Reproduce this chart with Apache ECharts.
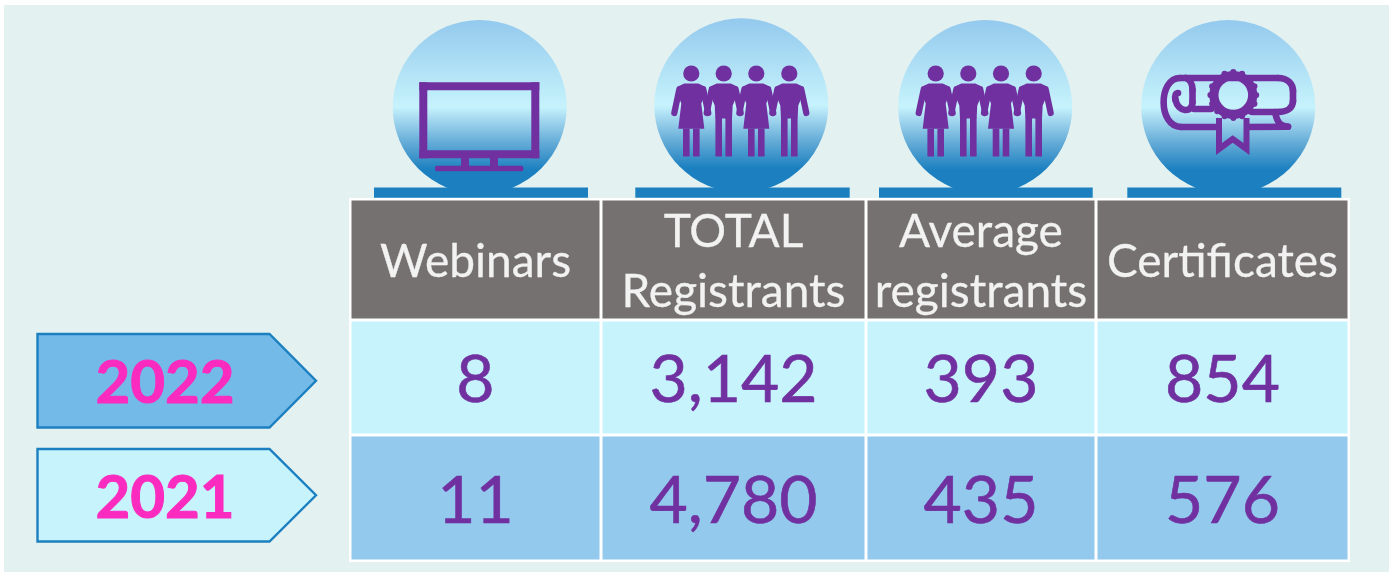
<!DOCTYPE html>
<html>
<head>
<meta charset="utf-8">
<style>html,body{margin:0;padding:0;background:#fff}#container{width:1397px;height:572px}</style>
<script src="https://cdn.jsdelivr.net/npm/echarts@6/dist/echarts.min.js"></script>
</head>
<body>
<div id="container"></div>
<script>
// table contents
var headers = ['Webinars', 'TOTAL\nRegistrants', 'Average\nregistrants', 'Certificates'];
var years = ['2022', '2021'];
var values2022 = [8, 3142, 393, 854];
var values2021 = [11, 4780, 435, 576];

// layout, in picture pixels (the axes below map 1:1)
var colEdges = [350, 601, 866, 1096, 1349];
var rowEdges = [199, 320, 435, 561];
var tagBoxes = [[37.5, 334, 427.5], [37.5, 449, 541.5]];
var rowFills = ['#767171', '#c6f3fc', '#93c9ed'];
var tagFills = ['#73bae8', '#c6f3fc'];
var FONT = 'Lato, Carlito, sans-serif';
var PURPLE = '#7030a0';
var BLUE = '#1c80c0';

var dom = document.getElementById('container');
var myChart = echarts.init(dom);

var cellData = [];
headers.forEach(function (h, c) { cellData.push([c, 0, h]); });
[values2022, values2021].forEach(function (vals, r) {
    vals.forEach(function (v, c) { cellData.push([c, r + 1, v.toLocaleString('en-US')]); });
});

function renderCell(params, api) {
    var c = api.value(0), r = api.value(1);
    var a = api.coord([colEdges[c], rowEdges[r]]);
    var b = api.coord([colEdges[c + 1], rowEdges[r + 1]]);
    var isHead = r === 0;
    return {
        type: 'group',
        children: [{
            type: 'rect',
            shape: { x: a[0] + 1.5, y: a[1] + 1.5, width: b[0] - a[0] - 3, height: b[1] - a[1] - 3 },
            style: { fill: rowFills[r] }
        }, {
            type: 'text',
            style: {
                text: cellData[params.dataIndex][2],
                x: (a[0] + b[0]) / 2,
                y: (a[1] + b[1]) / 2 + (isHead ? 3 : 3.5),
                align: 'center',
                verticalAlign: 'middle',
                lineHeight: isHead ? 60 : 70,
                fontFamily: FONT,
                fontSize: isHead ? 46 : 66,
                fill: isHead ? '#f2f2f2' : PURPLE,
                stroke: isHead ? '#f2f2f2' : PURPLE,
                lineWidth: isHead ? 0.3 : 0.6
            }
        }]
    };
}

function renderTag(params, api) {
    var box = tagBoxes[api.value(0)];
    var p0 = api.coord([box[0], box[1]]);
    var p1 = api.coord([269.5, box[1]]);
    var p2 = api.coord([316, (box[1] + box[2]) / 2]);
    var p3 = api.coord([269.5, box[2]]);
    var p4 = api.coord([box[0], box[2]]);
    return {
        type: 'group',
        children: [{
            type: 'polygon',
            shape: { points: [p0, p1, p2, p3, p4] },
            style: { fill: tagFills[api.value(0)], stroke: BLUE, lineWidth: 2.4 }
        }, {
            type: 'text',
            style: {
                text: years[api.value(0)],
                x: 165, y: p2[1] + 3,
                align: 'center', verticalAlign: 'middle',
                fontFamily: FONT, fontWeight: 'bold', fontSize: 60,
                fill: '#fb2bc0', stroke: '#fb2bc0', lineWidth: 1
            }
        }]
    };
}

function bubble(cx, cy, barL, barR) {
    return [{
        type: 'circle',
        shape: { cx: cx, cy: cy, r: 87 },
        style: {
            fill: {
                type: 'linear', x: 0, y: 0, x2: 0, y2: 1,
                colorStops: [
                    { offset: 0, color: '#93c9ed' },
                    { offset: 0.5, color: '#c6f3fc' },
                    { offset: 0.56, color: '#aadcf2' },
                    { offset: 0.71, color: '#62aad6' },
                    { offset: 0.86, color: BLUE },
                    { offset: 1, color: BLUE }
                ]
            }
        }
    }, {
        type: 'rect',
        shape: { x: barL, y: 187.5, width: barR - barL, height: 10.2 },
        style: { fill: BLUE }
    }];
}

function monitor() {
    var s = { fill: PURPLE };
    return [
        { type: 'rect', shape: { x: 419.3, y: 82.3, width: 120, height: 8 }, style: s },
        { type: 'rect', shape: { x: 419.3, y: 150.3, width: 120, height: 8 }, style: s },
        { type: 'rect', shape: { x: 419.3, y: 82.3, width: 8, height: 76 }, style: s },
        { type: 'rect', shape: { x: 531.3, y: 82.3, width: 8, height: 76 }, style: s },
        { type: 'rect', shape: { x: 461, y: 158, width: 8, height: 8 }, style: s },
        { type: 'rect', shape: { x: 490, y: 158, width: 8, height: 8 }, style: s },
        { type: 'rect', shape: { x: 435, y: 165.7, width: 88.4, height: 5.6, r: 2 }, style: s }
    ];
}

function person(hx, hy, woman) {
    var s = { fill: PURPLE };
    var pts = woman
        ? [[-7, 10], [7, 10], [14.5, 13.5], [14, 20], [10, 30], [13, 55.3], [-13, 55.3], [-10, 30], [-14, 20], [-14.5, 13.5]]
        : [[-7, 10], [7, 10], [14.5, 13.5], [14, 20], [9, 32], [8.3, 45], [-8.3, 45], [-9, 32], [-14, 20], [-14.5, 13.5]];
    var legTop = woman ? 55 : 44;
    var legX = [-8.3, 1.7];
    var hand = 17;
    function at(p) { return [hx + p[0], hy + p[1]]; }
    var out = [
        { type: 'circle', shape: { cx: hx, cy: hy, r: 8.1 }, style: s },
        { type: 'polygon', shape: { points: pts.map(at) }, style: s }
    ];
    legX.forEach(function (x) {
        out.push({ type: 'rect', shape: { x: hx + x, y: hy + legTop, width: 6.6, height: 83 - legTop }, style: s });
    });
    [-1, 1].forEach(function (d) {
        out.push({
            type: 'polyline',
            shape: { points: [at([d * 12, 16]), at([d * hand, 39.5])] },
            style: { stroke: PURPLE, lineWidth: 6.2, lineCap: 'round', fill: null }
        });
    });
    return out;
}

function scroll() {
    var line = { stroke: PURPLE, lineWidth: 6.6, lineCap: 'round', lineJoin: 'round', fill: null };
    function bez(x1, y1, cx1, cy1, cx2, cy2, x2, y2) {
        return { type: 'bezierCurve', shape: { x1: x1, y1: y1, cpx1: cx1, cpy1: cy1, cpx2: cx2, cpy2: cy2, x2: x2, y2: y2 }, style: line };
    }
    function poly(points) {
        return { type: 'polyline', shape: { points: points }, style: line };
    }
    var out = [
        // roll outline
        poly([[1180, 78], [1278, 78]]),
        bez(1278, 78, 1288, 78, 1293, 84, 1293, 91),
        poly([[1293, 91], [1293, 101]]),
        bez(1293, 101, 1293, 108, 1287, 112, 1278, 112),
        poly([[1278, 112], [1252, 112]]),
        bez(1275, 112, 1277, 121, 1279, 126, 1288, 126.7),
        poly([[1288, 126.7], [1248, 127]]),
        poly([[1218, 127], [1181, 127]]),
        bez(1181, 127, 1158, 127, 1158, 78, 1180, 78),
        // inner curl
        bez(1186, 78, 1191, 80, 1192.5, 84, 1192.5, 90),
        poly([[1192.5, 90], [1192.5, 102]]),
        bez(1192.5, 102, 1192.5, 114, 1178, 112, 1175.5, 100),
        bez(1175.5, 100, 1174.5, 95, 1176, 93, 1178, 93),
        poly([[1194, 109], [1211, 109]]),
        // ribbon
        {
            type: 'polyline',
            shape: { points: [[1219, 118], [1219, 149], [1232.7, 139], [1246.5, 149], [1246.5, 118]] },
            style: { stroke: PURPLE, lineWidth: 6, lineJoin: 'miter', fill: null }
        },
        // rosette
        { type: 'ring', shape: { cx: 1233.3, cy: 95, r: 24, r0: 14.8 }, style: { fill: PURPLE } }
    ];
    for (var i = 0; i < 16; i++) {
        var a = i / 16 * Math.PI * 2;
        out.push({ type: 'circle', shape: { cx: 1233.3 + 22.8 * Math.cos(a), cy: 95 + 22.8 * Math.sin(a), r: 3.1 }, style: { fill: PURPLE } });
    }
    return out;
}

function renderIcons() {
    var kids = [].concat(
        bubble(479.7, 107, 374, 588),
        bubble(741.3, 105.3, 635.3, 849.7),
        bubble(985.2, 107, 879, 1092.7),
        bubble(1228.2, 107, 1127.3, 1341.3),
        monitor(),
        person(691.3, 73.5, true), person(723.7, 73.5, false), person(756.3, 73.5, true), person(789.3, 73.5, false),
        person(935.7, 73.5, true), person(968.3, 73.5, false), person(1001, 73.5, true), person(1033.7, 73.5, false),
        scroll()
    );
    return { type: 'group', children: kids };
}

function renderBack(params, api) {
    var a = api.coord([4, 5]), b = api.coord([1389, 572]);
    var c = api.coord([colEdges[0] - 1, rowEdges[0] - 1]), d = api.coord([colEdges[4] + 1, rowEdges[3] + 1]);
    return {
        type: 'group',
        children: [
            { type: 'rect', shape: { x: a[0], y: a[1], width: b[0] - a[0], height: b[1] - a[1] }, style: { fill: '#e3f1f1' } },
            { type: 'rect', shape: { x: c[0], y: c[1], width: d[0] - c[0], height: d[1] - c[1] }, style: { fill: '#ffffff' } }
        ]
    };
}

var option = {
    animation: false,
    grid: { left: 0, right: 0, top: 0, bottom: 0 },
    xAxis: { type: 'value', min: 0, max: 1397, show: false },
    yAxis: { type: 'value', min: 0, max: 572, inverse: true, show: false },
    series: [
        { type: 'custom', silent: true, coordinateSystem: 'cartesian2d', clip: false, data: [[0, 0]], renderItem: renderBack, z: 1 },
        { type: 'custom', silent: true, coordinateSystem: 'cartesian2d', clip: false, data: [[0, 0]], renderItem: renderIcons, z: 2 },
        { type: 'custom', silent: true, coordinateSystem: 'cartesian2d', clip: false, encode: { x: 0, y: 1 }, data: cellData, renderItem: renderCell, z: 3 },
        { type: 'custom', silent: true, coordinateSystem: 'cartesian2d', clip: false, data: [[0], [1]], renderItem: renderTag, z: 3 }
    ]
};
myChart.setOption(option, true);
</script>
</body>
</html>
